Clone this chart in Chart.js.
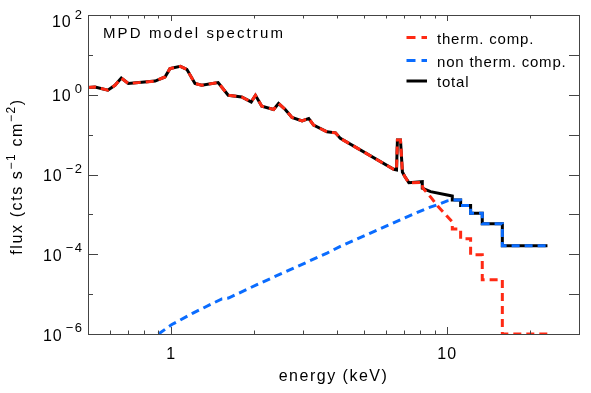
<!DOCTYPE html>
<html>
<head>
<meta charset="utf-8">
<script src="https://cdn.jsdelivr.net/npm/chart.js@4.4.1/dist/chart.umd.min.js"></script>
<style>
  html, body { margin: 0; padding: 0; background: #fff; }
  #wrap { width: 591px; height: 393px; position: relative; }
</style>
</head>
<body>
<div id="wrap"><canvas id="spectrum"></canvas></div>
<script>
// Espectro del modelo MPD: componente térmica, no térmica y total (escala log-log).

// Tramo de baja energía donde la componente térmica coincide con el total.
const lowEnergy = [0.50, 0.53, 0.59, 0.626, 0.66, 0.70, 0.875, 0.95, 0.99, 1.08, 1.14, 1.22, 1.29, 1.48,
  1.61, 1.80, 1.95, 2.02, 2.13, 2.35, 2.45, 2.59, 2.74, 2.98, 3.15, 3.28, 3.67, 3.94, 4.10,
  6.40, 6.55, 6.60, 6.77, 6.88, 7.00, 7.26];
const lowFlux = [1.51, 1.57, 1.30, 1.73, 2.63, 1.91, 2.21, 2.79, 4.52, 5.16, 4.34, 1.91, 1.73, 2.02,
  0.97, 0.88, 0.66, 0.97, 0.516, 0.427, 0.603, 0.427, 0.269, 0.221, 0.254, 0.173, 0.1175, 0.111, 0.0804,
  0.0135, 0.0130, 0.0729, 0.0729, 0.01155, 0.00918, 0.00624];

// Cola del total (bins anchos a alta energía).
const totalTailEnergy = [8.12, 8.12, 8.70, 10.0, 10.43, 10.43, 11.18, 11.18, 12.15, 12.15, 13.39, 13.39, 15.83, 15.83, 23.06];
const totalTailFlux = [0.00661, 0.00452, 0.00372, 0.00307, 0.0029, 0.0023, 0.0023, 0.00168, 0.00168, 0.00106,
  0.00106, 0.00058, 0.00058, 0.000163, 0.000163];

// Cola de la componente térmica.
const thermTailEnergy = [8.12, 8.15, 8.70, 9.23, 9.95, 10.43, 10.43, 11.18, 11.18, 12.15, 12.15, 13.39, 13.39, 15.83, 15.83, 23.06];
const thermTailFlux = [0.0063, 0.0046, 0.00274, 0.00163, 0.00092, 0.00065, 0.00043, 0.00043, 0.000244, 0.000244,
  0.000097, 0.000097, 0.000023, 0.000023, 0.000001, 0.000001];

// Componente no térmica.
const nonThermEnergy = [0.90, 1.006, 1.205, 1.527, 1.614, 2.046, 2.70, 3.67, 4.10, 5.27, 6.96, 8.46, 9.20, 10.0,
  10.43, 11.18, 11.18, 12.15, 12.15, 13.39, 13.39, 15.83, 15.83, 23.06];
const nonThermFlux = [1.0e-6, 1.73e-6, 3.39e-6, 7.6e-6, 8.0e-6, 1.73e-5, 4.1e-5, 1.07e-4, 1.57e-4, 3.39e-4, 8.0e-4,
  1.43e-3, 1.73e-3, 2.18e-3, 2.3e-3, 2.3e-3, 1.68e-3, 1.68e-3, 1.06e-3, 1.06e-3, 5.8e-4, 5.8e-4, 1.63e-4, 1.63e-4];

// Etiquetas de los ejes.
const xTickValues = [1, 10];
const xTickLabels = ["1", "10"];
const yLabelExponents = [2, 0, -2, -4, -6];
const seriesLabels = ["therm. comp.", "non therm. comp.", "total"];

const RED = "#ff2a14";
const BLUE = "#0a6cff";
const FONT = "'Liberation Sans', Arial, sans-serif";

function toPoints(energies, fluxes) {
  return energies.map((e, i) => ({ x: e, y: fluxes[i] }));
}

const totalData = toPoints(lowEnergy.concat(totalTailEnergy), lowFlux.concat(totalTailFlux));
const thermData = toPoints(lowEnergy.concat(thermTailEnergy), lowFlux.concat(thermTailFlux));
const nonThermData = toPoints(nonThermEnergy, nonThermFlux);

function drawText(ctx, text, x, y, size, align, spacing) {
  ctx.save();
  ctx.font = size + "px " + FONT;
  ctx.letterSpacing = spacing + "px";
  ctx.textAlign = align;
  ctx.textBaseline = "alphabetic";
  ctx.fillStyle = "#000";
  ctx.fillText(text, x, y);
  ctx.restore();
}

function textWidth(ctx, text, size, spacing) {
  ctx.save();
  ctx.font = size + "px " + FONT;
  ctx.letterSpacing = spacing + "px";
  const w = ctx.measureText(text).width;
  ctx.restore();
  return w;
}

// Marco, marcas, etiquetas y leyenda al estilo IDL.
const idlFrame = {
  id: "idlFrame",
  afterDatasetsDraw(chart) {
    const { ctx, chartArea: a, scales } = chart;
    const xs = scales.x;
    const ys = scales.y;

    ctx.save();
    ctx.strokeStyle = "#444";
    ctx.lineWidth = 1;
    ctx.strokeRect(Math.round(a.left) + 0.5, Math.round(a.top) + 0.5,
      Math.round(a.right - a.left), Math.round(a.bottom - a.top));

    ctx.beginPath();
    // marcas del eje x (abajo y arriba)
    const xMinor = [];
    for (const dec of [0.1, 1, 10]) {
      for (let k = 1; k <= 9; k++) xMinor.push(k * dec);
    }
    xMinor.forEach((v) => {
      if (v < xs.min || v > xs.max) return;
      const px = Math.round(xs.getPixelForValue(v)) + 0.5;
      const major = xTickValues.includes(v);
      const lb = major ? 7 : 3.5;
      const lt = major ? 6 : 3.5;
      ctx.moveTo(px, a.bottom);
      ctx.lineTo(px, a.bottom - lb);
      ctx.moveTo(px, a.top);
      ctx.lineTo(px, a.top + lt);
    });
    // marcas del eje y (izquierda y derecha)
    for (let e = -5; e <= 1; e++) {
      const py = Math.round(ys.getPixelForValue(Math.pow(10, e))) + 0.5;
      const ll = e % 2 === 0 ? 10 : 5;
      ctx.moveTo(a.left, py);
      ctx.lineTo(a.left + ll, py);
      ctx.moveTo(a.right, py);
      ctx.lineTo(a.right - 10, py);
    }
    ctx.stroke();
    ctx.restore();

    // etiquetas del eje x
    xTickValues.forEach((v, i) => {
      drawText(ctx, xTickLabels[i], xs.getPixelForValue(v), 358.5, 16, "center", 1);
    });

    // etiquetas del eje y: 10 con exponente
    yLabelExponents.forEach((e) => {
      const py = ys.getPixelForValue(Math.pow(10, e));
      const base = Math.max(py + 6.5, 27);
      const sup = e < 0 ? "\u2212" + Math.abs(e) : String(e);
      const right = 83.5;
      const supW = textWidth(ctx, sup, 13, 1.5);
      drawText(ctx, sup, right, base - 8.5, 13, "right", 1.5);
      drawText(ctx, "10", right - supW - 3, base, 16, "right", 1);
    });

    // título eje x
    drawText(ctx, "energy (keV)", (a.left + a.right) / 2, 381, 16, "center", 1.5);

    // título eje y con superíndices
    const parts = [
      ["flux (cts s", 16, 0],
      ["\u22121", 12, -7],
      [" cm", 16, 0],
      ["\u22122", 12, -7],
      [")", 16, 0]
    ];
    const sp = 1.6;
    const total = parts.reduce((acc, p) => acc + textWidth(ctx, p[0], p[1], sp), 0);
    ctx.save();
    ctx.translate(22, (a.top + a.bottom) / 2 + 2);
    ctx.rotate(-Math.PI / 2);
    let cx = -total / 2;
    parts.forEach((p) => {
      drawText(ctx, p[0], cx, p[2], p[1], "left", sp);
      cx += textWidth(ctx, p[0], p[1], sp);
    });
    ctx.restore();

    // texto del panel
    drawText(ctx, "MPD model spectrum", 103, 37.7, 15, "left", 2.1);

    // leyenda
    const rows = [
      { y: 37.5, color: RED, dash: [9, 6] },
      { y: 60.5, color: BLUE, dash: [9, 6] },
      { y: 81, color: "#000", dash: [] }
    ];
    rows.forEach((r, i) => {
      ctx.save();
      ctx.strokeStyle = r.color;
      ctx.lineWidth = 3;
      ctx.setLineDash(r.dash);
      ctx.beginPath();
      ctx.moveTo(406.5, r.y);
      ctx.lineTo(427, r.y);
      ctx.stroke();
      ctx.restore();
      drawText(ctx, seriesLabels[i], 437, r.y + 6, 15, "left", 0.8);
    });
  }
};

new Chart(document.getElementById("spectrum").getContext("2d"), {
  type: "line",
  data: {
    datasets: [
      {
        label: seriesLabels[0],
        data: thermData,
        borderColor: RED,
        borderWidth: 3,
        borderDash: [8, 5],
        pointRadius: 0,
        tension: 0,
        fill: false
      },
      {
        label: seriesLabels[1],
        data: nonThermData,
        borderColor: BLUE,
        borderWidth: 3,
        borderDash: [8, 5],
        pointRadius: 0,
        tension: 0,
        fill: false
      },
      {
        label: seriesLabels[2],
        data: totalData,
        borderColor: "#000",
        borderWidth: 3,
        pointRadius: 0,
        tension: 0,
        fill: false
      }
    ]
  },
  options: {
    responsive: true,
    maintainAspectRatio: false,
    animation: false,
    devicePixelRatio: 1,
    layout: { autoPadding: false, padding: { left: 88, top: 15, right: 12, bottom: 59 } },
    plugins: {
      legend: { display: false },
      tooltip: { enabled: false }
    },
    scales: {
      x: {
        type: "logarithmic",
        min: 0.5,
        max: 30,
        grid: { display: false, drawTicks: false },
        border: { display: false },
        ticks: { display: false }
      },
      y: {
        type: "logarithmic",
        min: 1e-6,
        max: 1e2,
        grid: { display: false, drawTicks: false },
        border: { display: false },
        ticks: { display: false }
      }
    }
  },
  plugins: [idlFrame]
});
</script>
</body>
</html>
